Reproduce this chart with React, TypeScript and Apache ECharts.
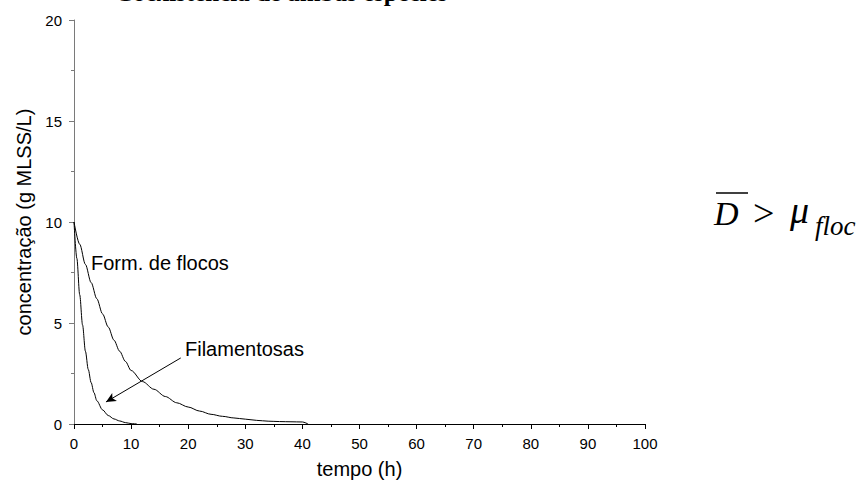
import React, { useEffect, useRef } from "react";
import * as echarts from "echarts";

// Tempo (h) e concentração (g MLSS/L) de cada população
const tempoFilamentosas = [0, 0.5, 1, 1.5, 2, 2.5, 3, 3.5, 4, 5, 6, 7, 8, 9, 10, 11];
const concFilamentosas = [10, 8.2, 6.4, 4.9, 3.6, 2.7, 2.05, 1.55, 1.15, 0.7, 0.42, 0.25, 0.15, 0.07, 0.02, 0];

const tempoFlocos = [0, 1, 2, 3, 4, 5, 6, 7, 8, 9, 10, 12, 14, 16, 18, 20, 22, 24, 26, 28, 30, 32, 34, 36, 38, 40, 41];
const concFlocos = [10, 8.9, 7.9, 7.0, 6.2, 5.45, 4.8, 4.15, 3.6, 3.1, 2.65, 2.1, 1.72, 1.36, 1.05, 0.84, 0.64, 0.48, 0.38, 0.3, 0.24, 0.18, 0.14, 0.12, 0.11, 0.1, 0];

// Seta que aponta para a curva das filamentosas
const setaInicio = [18.7, 3.27];
const setaFim = [5.6, 1.09];

const xTicks = { min: 0, max: 100, interval: 10 };
const yTicks = { min: 0, max: 20, interval: 5 };

const SANS = "'Liberation Sans', Arial, sans-serif";
const SERIF = "'Liberation Serif', 'Times New Roman', serif";

function pares(xs: number[], ys: number[]) {
  return xs.map((x, i) => [x, ys[i]]);
}

export default function App() {
  const ref = useRef<HTMLDivElement>(null);

  useEffect(() => {
    if (!ref.current) return;
    const chart = echarts.init(ref.current, null, { renderer: "svg" });

    const axisLabel = { color: "#000", fontFamily: SANS, fontSize: 15 };

    chart.setOption({
      animation: false,
      backgroundColor: "#fff",
      grid: { left: 74, right: 221, top: 20, bottom: 63 },
      xAxis: {
        type: "value",
        ...xTicks,
        name: "tempo (h)",
        nameLocation: "middle",
        nameGap: 35,
        nameTextStyle: { color: "#000", fontFamily: SANS, fontSize: 20 },
        axisLine: { show: true, onZero: false, lineStyle: { color: "#000", width: 1 } },
        axisTick: { show: true, inside: false, length: 5, lineStyle: { color: "#000" } },
        minorTick: { show: true, splitNumber: 2, length: 3, lineStyle: { color: "#000" } },
        splitLine: { show: false },
        axisLabel: { ...axisLabel, margin: 12 },
      },
      yAxis: {
        type: "value",
        ...yTicks,
        name: "concentração (g MLSS/L)",
        nameLocation: "middle",
        nameGap: 40,
        nameRotate: 90,
        nameTextStyle: { color: "#000", fontFamily: SANS, fontSize: 20 },
        axisLine: { show: true, onZero: false, lineStyle: { color: "#7a7a7a", width: 1 } },
        axisTick: { show: true, inside: false, length: 5, lineStyle: { color: "#7a7a7a" } },
        minorTick: { show: true, splitNumber: 2, length: 3, lineStyle: { color: "#7a7a7a" } },
        splitLine: { show: false },
        axisLabel: { ...axisLabel, margin: 12 },
      },
      series: [
        {
          name: "Filamentosas",
          type: "line",
          data: pares(tempoFilamentosas, concFilamentosas),
          showSymbol: false,
          smooth: 0.3,
          smoothMonotone: "x",
          lineStyle: { color: "#000", width: 1 },
          markLine: {
            silent: true,
            symbol: ["none", "arrow"],
            symbolSize: [7, 10],
            label: { show: false },
            lineStyle: { color: "#000", width: 1, type: "solid" },
            data: [[{ coord: setaInicio }, { coord: setaFim }]],
          },
        },
        {
          name: "Form. de flocos",
          type: "line",
          data: pares(tempoFlocos, concFlocos),
          showSymbol: false,
          smooth: 0.3,
          smoothMonotone: "x",
          lineStyle: { color: "#000", width: 1 },
        },
      ],
      graphic: [
        {
          type: "text",
          left: 115,
          top: -20.5,
          style: {
            text: "Coexistência de ambas espécies",
            fontFamily: SERIF,
            fontWeight: "bold",
            fontSize: 25,
            fill: "#000",
          },
        },
        {
          type: "text",
          x: 91,
          y: 263,
          style: {
            text: "Form. de flocos",
            fontFamily: SANS,
            fontSize: 20,
            fill: "#000",
            verticalAlign: "middle",
          },
        },
        {
          type: "text",
          x: 185,
          y: 349,
          style: {
            text: "Filamentosas",
            fontFamily: SANS,
            fontSize: 20,
            fill: "#000",
            verticalAlign: "middle",
          },
        },
        // D̄ > μ_floc
        {
          type: "line",
          shape: { x1: 716, y1: 193, x2: 748, y2: 193 },
          style: { stroke: "#000", lineWidth: 1.5 },
        },
        {
          type: "text",
          x: 714,
          y: 213,
          style: {
            text: "D",
            fontFamily: SERIF,
            fontStyle: "italic",
            fontSize: 34,
            fill: "#000",
            verticalAlign: "middle",
          },
        },
        {
          type: "text",
          x: 753,
          y: 213,
          style: {
            text: ">",
            fontFamily: SERIF,
            fontSize: 38,
            fill: "#000",
            verticalAlign: "middle",
          },
        },
        {
          type: "text",
          x: 790,
          y: 210,
          style: {
            text: "μ",
            fontFamily: SERIF,
            fontStyle: "italic",
            fontSize: 38,
            fill: "#000",
            verticalAlign: "middle",
          },
        },
        {
          type: "text",
          x: 815,
          y: 226,
          style: {
            text: "floc",
            fontFamily: SERIF,
            fontStyle: "italic",
            fontSize: 27,
            fill: "#000",
            verticalAlign: "middle",
          },
        },
      ],
    });

    return () => chart.dispose();
  }, []);

  return (
    <div
      ref={ref}
      style={{ position: "fixed", left: 0, top: 0, width: 866, height: 487, background: "#fff" }}
    />
  );
}
